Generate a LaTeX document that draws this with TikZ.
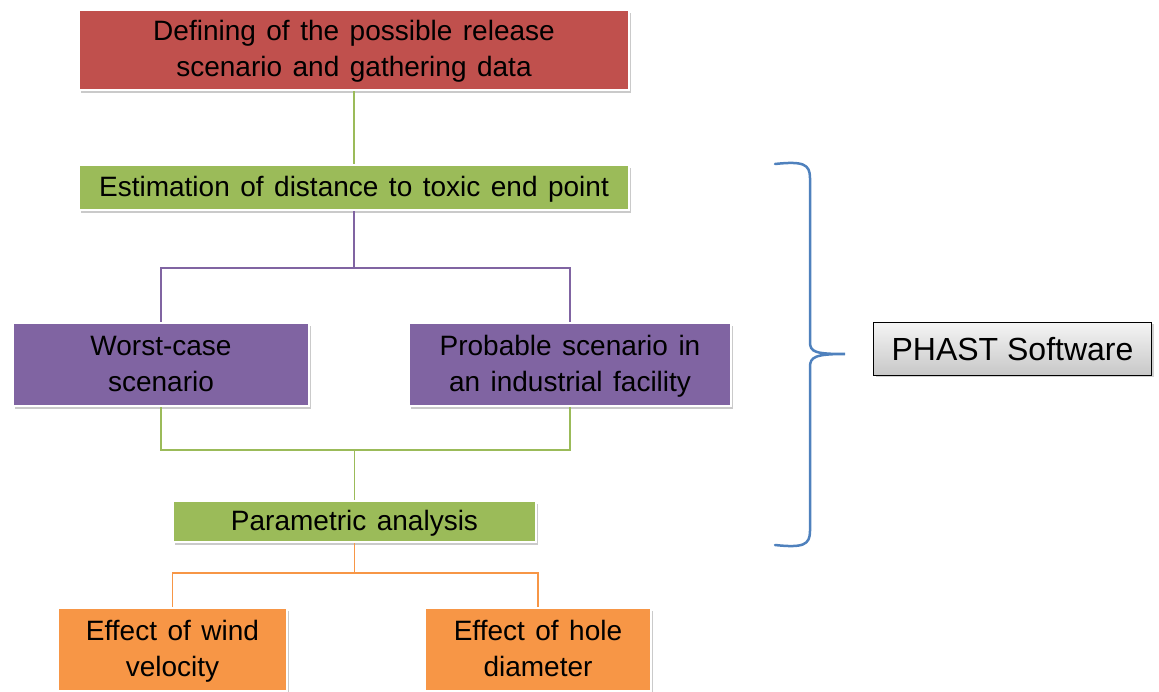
\documentclass[tikz,border=0pt]{standalone}
\usepackage{fontspec}
\setmainfont{Liberation Sans}
\usetikzlibrary{shadows,calc}
\definecolor{cred}{HTML}{C0504D}
\definecolor{cgreen}{HTML}{9BBB59}
\definecolor{cpurple}{HTML}{8064A2}
\definecolor{corange}{HTML}{F79646}
\definecolor{cblue}{HTML}{4F81BD}
\newcommand{\boxfont}{\fontsize{28}{36}\selectfont\spaceskip=10.5pt plus 1pt minus 0pt\relax}
\newcommand{\st}{\rule[-6pt]{0pt}{30pt}}
\tikzset{
  box/.style={draw=white, line width=2.5pt, align=center, inner sep=2pt,
    font=\boxfont,
    drop shadow={shadow xshift=2pt, shadow yshift=-3pt, opacity=0.35, fill=black!60}},
  conn/.style={line width=1.5pt},
}
\begin{document}
\begin{tikzpicture}[x=1pt,y=-1pt]
\useasboundingbox (0,0) rectangle (1159,692);
\node[box, fill=cred, minimum width=550pt, minimum height=80pt] (def) at (354,50) {\st Defining of the possible release\\\st scenario and gathering data};
\node[box, fill=cgreen, minimum width=550pt, minimum height=45pt] (est) at (354,187.5) {\st Estimation of distance to toxic end point};
\node[box, fill=cpurple, minimum width=296pt, minimum height=83pt] (worst) at (161,364.5) {\st Worst-case\\\st scenario};
\node[box, fill=cpurple, minimum width=322pt, minimum height=83pt] (prob) at (570,364.5) {\st Probable scenario in\\\st an industrial facility};
\node[box, fill=cgreen, minimum width=363pt, minimum height=41pt] (par) at (354.5,521.5) {\st Parametric analysis};
\node[box, fill=corange, minimum width=229pt, minimum height=83pt] (wind) at (172.5,649.5) {\st Effect of wind\\\st velocity};
\node[box, fill=corange, minimum width=226pt, minimum height=83pt] (hole) at (538,649.5) {\st Effect of hole\\\st diameter};
\node[draw=black, line width=0.8pt, top color=white!96!black, bottom color=black!22,
  minimum width=278pt, minimum height=53pt, inner sep=2pt,
  font=\fontsize{32}{38}\selectfont,
  drop shadow={shadow xshift=2pt, shadow yshift=-2pt, opacity=0.3, fill=black!60}] (phast) at (1012.5,349) {PHAST Software};
% connectors
\draw[conn, cgreen] (def.south) -- (est.north);
\coordinate (j1) at (354,268);
\draw[conn, cpurple] (est.south) -- (j1);
\draw[conn, cpurple] (worst.north) |- (j1) -| (prob.north);
\coordinate (j2) at (354.5,450);
\draw[conn, cgreen] (worst.south) |- (j2) -| (prob.south);
\draw[conn, cgreen] (j2) -- (par.north);
\coordinate (j3) at (354.5,573);
\draw[conn, corange] (par.south) -- (j3);
\draw[conn, corange] (wind.north) |- (j3) -| (hole.north);
% brace
\coordinate (btip) at (845,354);
\draw[cblue, line width=2.5pt, line cap=round]
  (775,164) .. controls (803,161) and (810,164) .. (810,178) -- (810,342)
  .. controls (810,352) and (815,354) .. (btip)
  .. controls (815,354) and (810,357) .. (810,367) -- (810,531)
  .. controls (810,545) and (803,548) .. (775,545);
\end{tikzpicture}
\end{document}
